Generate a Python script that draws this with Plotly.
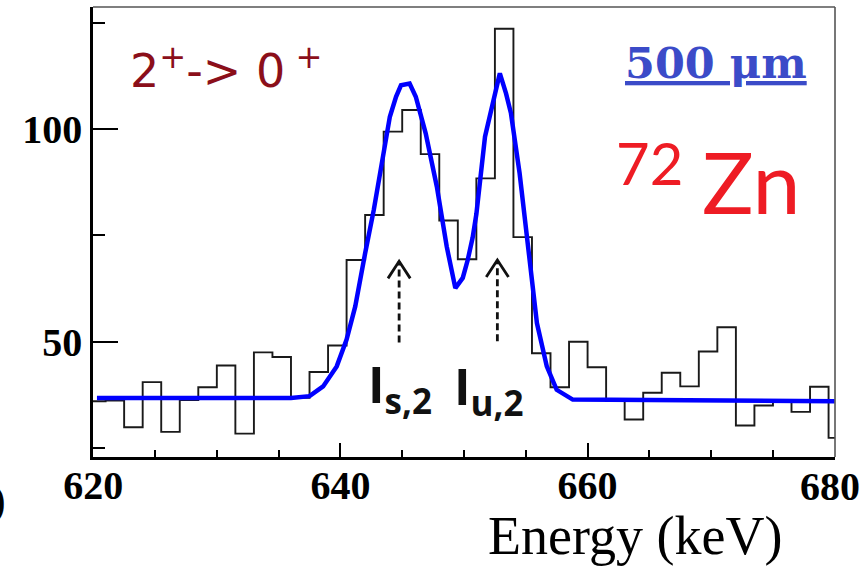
import plotly.graph_objects as go

# Gamma spectrum around the 2+ -> 0+ line of 72Zn (counts per 1.5 keV bin)
bin_start = 619.5
bin_width = 1.5
counts = [36.0, 36.2, 29.9, 40.5, 28.8, 36.3, 39.3, 44.4, 28.4, 47.5,
          46.4, 36.8, 42.9, 49.1, 69.2, 79.8, 99.4, 104.5, 94.1, 78.5,
          69.4, 88.4, 123.6, 74.6, 47.3, 39.3, 50.0, 44.0, 36.5, 31.7,
          38.0, 42.7, 39.5, 47.7, 53.4, 30.3, 35.0, 36.0, 33.5, 39.4,
          27.4]

# Fitted double-peak curve (energy in keV, counts)
fit_energy = [620.3, 636.0, 637.5, 638.6, 639.7, 640.5, 641.2, 641.7, 642.0, 642.7,
              643.5, 644.0, 644.5, 644.9, 645.6, 646.1, 646.9, 647.8, 648.6, 649.3,
              649.9, 650.3, 650.7, 651.0, 651.7, 652.4, 652.9, 653.4, 653.8, 654.5,
              655.1, 655.9, 656.7, 657.5, 658.8, 680.0]
fit_counts = [36.8, 36.8, 37.2, 39.5, 44.2, 50.5, 58.3, 66.9, 70.8, 81.0,
              95.1, 102.9, 107.6, 110.3, 110.7, 107.6, 99.0, 86.5, 72.4, 62.6,
              65.0, 69.2, 74.5, 80.0, 98.2, 106.8, 113.1, 108.4, 103.7, 89.6,
              75.0, 54.4, 44.2, 38.7, 36.4, 36.0]

# Peak markers: energy, arrow base and tip (counts)
arrow_energy = [644.75, 652.7]
arrow_base = [49.8, 50.1]
arrow_tip = [68.9, 69.2]

x_ticks = [620, 640, 660, 680]
y_ticks = [50, 100]

W, H = 864, 567
L, R, T, B = 93, 29, 7, 110
pw, ph = W - L - R, H - T - B


def px(x):
    return (x - L) / pw


def py(y):
    return (H - B - y) / ph


edges = [bin_start + bin_width * i for i in range(len(counts) + 1)]
hist_y = counts + [counts[-1]]

fig = go.Figure()
fig.add_trace(go.Scatter(x=edges, y=hist_y, mode="lines", line_shape="hv",
                         line=dict(color="#1a1a1a", width=1.9),
                         hoverinfo="skip", showlegend=False))
fig.add_trace(go.Scatter(x=fit_energy, y=fit_counts, mode="lines",
                         line=dict(color="#0000ff", width=4.5),
                         hoverinfo="skip", showlegend=False))

# dashed arrows with open heads
for e, y0, y1 in zip(arrow_energy, arrow_base, arrow_tip):
    fig.add_trace(go.Scatter(x=[e, e], y=[y0, y1], mode="lines",
                             line=dict(color="#111", width=2.8, dash="7px,4px"),
                             hoverinfo="skip", showlegend=False))
    fig.add_trace(go.Scatter(x=[e - 0.9, e, e + 0.9], y=[y1 - 4.0, y1, y1 - 4.0],
                             mode="lines", line=dict(color="#111", width=2.8),
                             hoverinfo="skip", showlegend=False))

tick_font = dict(family="Liberation Serif", size=40, color="black", weight="bold")

# the last x label sits flush with the frame, so it is placed by hand below
x_tick_text = [str(v) for v in x_ticks[:-1]] + [""]

fig.update_xaxes(range=[619.98, 680.02], tickvals=x_ticks, ticktext=x_tick_text,
                 ticks="inside", ticklen=14, tickwidth=2, tickcolor="black",
                 minor=dict(dtick=5, tick0=620, ticks="inside", ticklen=7,
                            tickwidth=1.8, tickcolor="black"),
                 showline=True, linecolor="black", linewidth=2.5,
                 showgrid=False, zeroline=False, tickfont=tick_font,
                 ticklabelstandoff=-9, automargin=False)
fig.update_yaxes(range=[22.9, 128.7], tickvals=y_ticks, ticktext=[str(v) for v in y_ticks],
                 ticks="inside", ticklen=25, tickwidth=2, tickcolor="black",
                 minor=dict(dtick=25, tick0=0, ticks="inside", ticklen=12,
                            tickwidth=1.8, tickcolor="black"),
                 showline=True, linecolor="black", linewidth=2.5,
                 showgrid=False, zeroline=False, tickfont=tick_font,
                 automargin=False)

# thin top and right frame
fig.add_shape(type="line", xref="paper", yref="paper", x0=0, x1=1, y0=1, y1=1,
              line=dict(color="#555", width=1.6))
fig.add_shape(type="line", xref="paper", yref="paper", x0=1, x1=1, y0=0, y1=1,
              line=dict(color="#555", width=1.6))

ann = []
ann.append(dict(text=str(x_ticks[-1]), x=px(862), y=py(486),
                xanchor="right", yanchor="middle", font=tick_font))
ann.append(dict(text="2<sup>+</sup>-> 0<sup> +</sup>", x=px(128), y=py(68),
                xanchor="left", yanchor="middle",
                font=dict(family="DejaVu Sans", size=46, color="#8b0f1a")))
ann.append(dict(text="<u>500 μm</u>", x=px(623), y=py(63),
                xanchor="left", yanchor="middle",
                font=dict(family="DejaVu Serif", size=43, color="#3b4bc8",
                          weight="bold")))
ann.append(dict(text="72", x=px(614), y=py(162),
                xanchor="left", yanchor="middle",
                font=dict(family="Lato", size=58, color="#ee1c24")))
ann.append(dict(text="Zn", x=px(700), y=py(180),
                xanchor="left", yanchor="middle",
                font=dict(family="Lato", size=86, color="#ee1c24")))
ann.append(dict(text="<b>I<sub>s,2</sub></b>", x=px(366), y=py(387),
                xanchor="left", yanchor="middle",
                font=dict(family="Open Sans", size=50, color="#111")))
ann.append(dict(text="<b>I<sub>u,2</sub></b>", x=px(452), y=py(389),
                xanchor="left", yanchor="middle",
                font=dict(family="Open Sans", size=50, color="#111")))
ann.append(dict(text="Energy (keV)", x=px(635), y=py(536),
                xanchor="center", yanchor="middle",
                font=dict(family="Liberation Serif", size=54, color="black")))
ann.append(dict(text="<b>)</b>", x=px(8), y=py(500),
                xanchor="right", yanchor="middle",
                font=dict(family="Liberation Serif", size=44, color="black")))
for a in ann:
    a.update(xref="paper", yref="paper", showarrow=False)

fig.update_layout(width=W, height=H, margin=dict(l=L, r=R, t=T, b=B, autoexpand=False),
                  paper_bgcolor="white", plot_bgcolor="white",
                  annotations=ann, showlegend=False)

fig.write_html("out.html")
